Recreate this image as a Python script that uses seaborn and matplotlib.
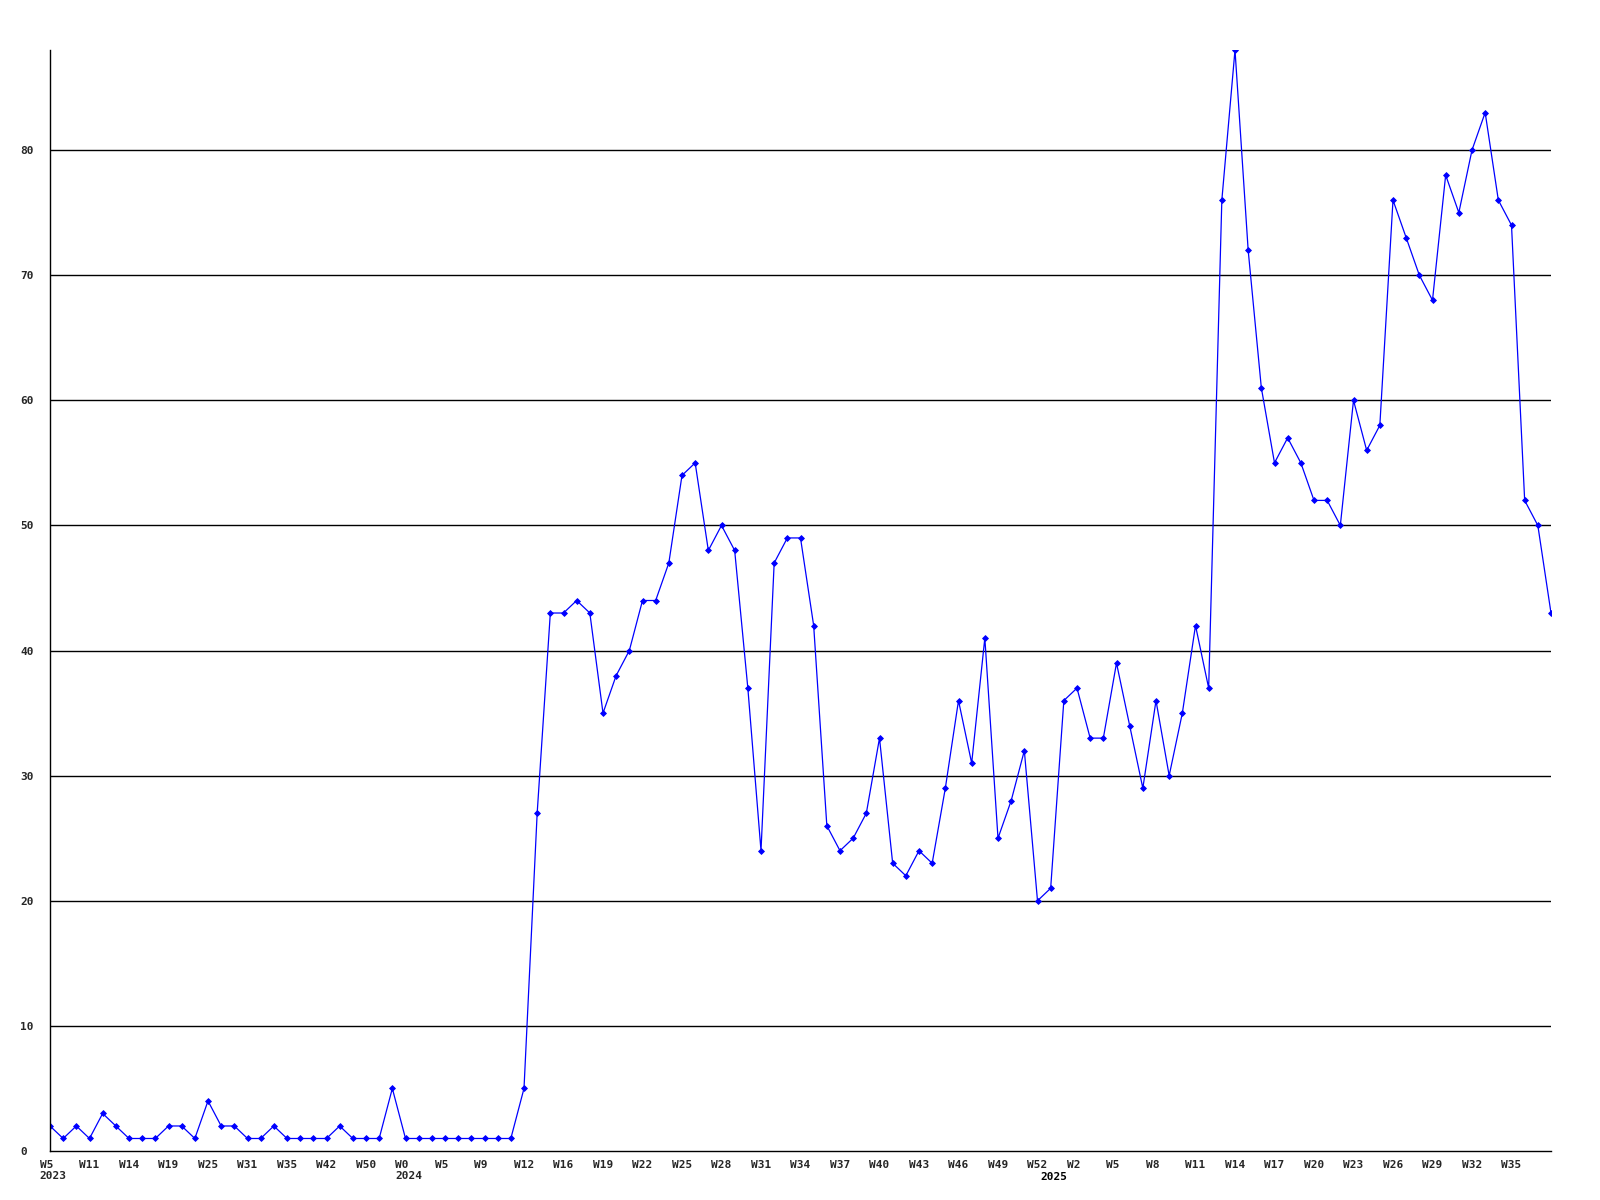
import matplotlib
matplotlib.use("Agg")
import matplotlib.pyplot as plt
from matplotlib.transforms import ScaledTranslation
import seaborn as sns
import pandas as pd
import numpy as np

# ---- data ----
values = [2, 1, 2, 1, 3, 2, 1, 1, 1, 2, 2, 1, 4, 2, 2, 1, 1, 2, 1, 1, 1, 1, 2, 1, 1, 1, 5,
          1, 1, 1, 1, 1, 1, 1, 1, 1, 5,
          27, 43, 43, 44, 43, 35, 38, 40, 44, 44,
          47, 54, 55, 48, 50, 48, 37, 24, 47, 49,
          49, 42, 26, 24, 25, 27, 33, 23, 22, 24,
          23, 29, 36, 31, 41, 25, 28, 32, 20, 21,
          36, 37, 33, 33, 39, 34, 29, 36, 30, 35,
          42, 37, 76, 88, 72, 61, 55, 57, 55, 52,
          52, 50, 60, 56, 58, 76, 73, 70, 68, 78,
          75, 80, 83, 76, 74, 52, 50, 43]

week_labels = ["W5", "W11", "W14", "W19", "W25", "W31", "W35", "W42", "W50",
               "W0", "W5", "W9", "W12", "W16", "W19", "W22", "W25", "W28", "W31",
               "W34", "W37", "W40", "W43", "W46", "W49", "W52",
               "W2", "W5", "W8", "W11", "W14", "W17", "W20", "W23", "W26", "W29",
               "W32", "W35"]
year_labels = ["2023", "", "", "", "", "", "", "", "",
               "2024", "", "", "", "", "", "", "", "", "",
               "", "", "", "", "", "", "",
               "", "", "", "", "", "", "", "", "", "",
               "", ""]
label_step = 3
y_ticks = [0, 10, 20, 30, 40, 50, 60, 70, 80]

# 2025 year label falls on the point right after W52
year2025_label = "2025"
year2025_index = 76

df = pd.DataFrame({"x": np.arange(len(values)), "value": values})

sns.set_style("white")
plt.rcParams["font.family"] = ["DejaVu Sans Mono", "DejaVu Sans"]
plt.rcParams["font.weight"] = "bold"

fig = plt.figure(figsize=(16, 12), dpi=100)
ax = fig.add_axes([50 / 1600, 49 / 1200, 1501 / 1600, 1101 / 1200])

sns.lineplot(data=df, x="x", y="value", ax=ax, color="#0000ff", linewidth=0.9,
             marker="D", markersize=3.0, markeredgewidth=0.6, markeredgecolor="#0000ff")

ax.set_xlim(0, len(values) - 1)
ax.set_ylim(0, 88)

for yv in y_ticks[1:]:
    ax.axhline(yv, color="black", linewidth=1.0, zorder=0)

for s in ["top", "right"]:
    ax.spines[s].set_visible(False)
for s in ["left", "bottom"]:
    ax.spines[s].set_color("black")
    ax.spines[s].set_linewidth(1.0)

tick_font = {"family": "DejaVu Sans Mono", "weight": "bold", "size": 8}

# x ticks
xt = [i * label_step for i in range(len(week_labels))]
xl = [w + ("\n" + y if y else "") for w, y in zip(week_labels, year_labels)]
ax.set_xticks(xt)
ax.set_xticklabels(xl, fontdict=tick_font, ha="left", multialignment="left",
                   linespacing=1.15)
ax.tick_params(axis="x", length=0, pad=6.5)
off = ScaledTranslation(-10.4 / 100, 0, fig.dpi_scale_trans)
for lab in ax.get_xticklabels():
    lab.set_transform(lab.get_transform() + off)

# 2025 year label (second line) under index 76
ax.text(year2025_index, 0, year2025_label,
        transform=ax.get_xaxis_transform() + off +
        ScaledTranslation(0, -(6.5 / 72 + 0.118), fig.dpi_scale_trans),
        ha="left", va="top", color="black", **{"fontfamily": "DejaVu Sans Mono",
                                                 "fontweight": "bold", "fontsize": 8})

# y ticks, left aligned at x=20px
ax.set_yticks(y_ticks)
ax.set_yticklabels([str(v) for v in y_ticks], fontdict=tick_font, ha="left")
ax.tick_params(axis="y", length=0, pad=21.6)

ax.set_xlabel("")
ax.set_ylabel("")
fig.patch.set_facecolor("white")
ax.set_facecolor("white")

fig.savefig("out.png", dpi=100)
